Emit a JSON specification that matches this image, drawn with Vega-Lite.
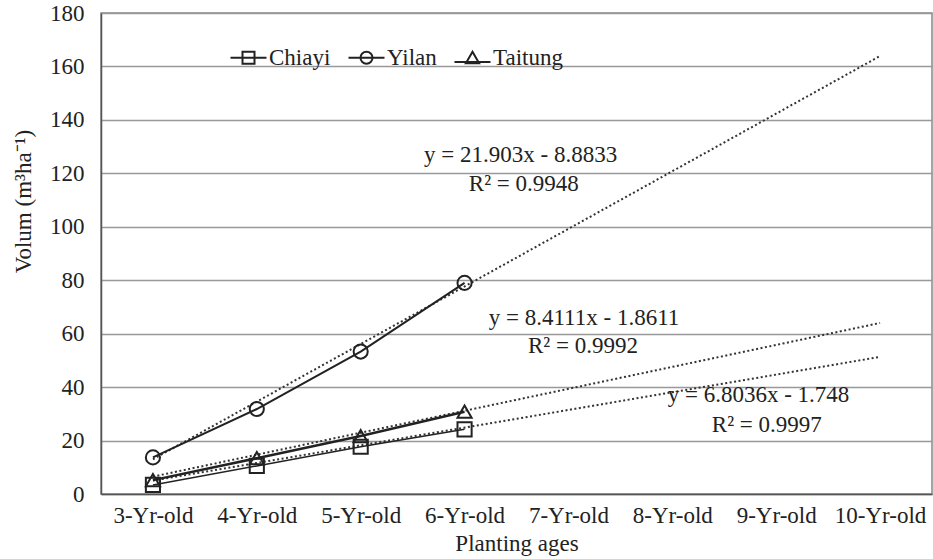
{
  "$schema": "https://vega.github.io/schema/vega-lite/v6.json",
  "width": 831,
  "height": 481,
  "autosize": {"type": "none"},
  "padding": {"left": 101, "top": 13, "right": 1, "bottom": 65},
  "background": "white",
  "config": {
    "font": "Liberation Serif",
    "view": {"stroke": "#888", "strokeWidth": 1.5},
    "axis": {"labelFont": "Liberation Serif", "titleFont": "Liberation Serif", "labelColor": "#222", "titleColor": "#222", "titleFontWeight": "normal"},
    "legend": {"labelFont": "Liberation Serif"},
    "text": {"font": "Liberation Serif"}
  },
  "datasets": {
    "obs": [
      {"series": "Chiayi", "age": 1, "vol": 3.4},
      {"series": "Chiayi", "age": 2, "vol": 10.5},
      {"series": "Chiayi", "age": 3, "vol": 17.7},
      {"series": "Chiayi", "age": 4, "vol": 24.2},
      {"series": "Yilan", "age": 1, "vol": 13.7},
      {"series": "Yilan", "age": 2, "vol": 31.8},
      {"series": "Yilan", "age": 3, "vol": 53.3},
      {"series": "Yilan", "age": 4, "vol": 79.0},
      {"series": "Taitung", "age": 1, "vol": 5.2},
      {"series": "Taitung", "age": 2, "vol": 13.4},
      {"series": "Taitung", "age": 3, "vol": 21.7},
      {"series": "Taitung", "age": 4, "vol": 30.8}
    ],
    "trend": [
      {"series": "Chiayi", "age": 1, "vol": 5.0},
      {"series": "Chiayi", "age": 8, "vol": 51.3},
      {"series": "Yilan", "age": 1, "vol": 13.0},
      {"series": "Yilan", "age": 8, "vol": 163.9},
      {"series": "Taitung", "age": 1, "vol": 6.5},
      {"series": "Taitung", "age": 8, "vol": 64.0}
    ],
    "notes": [
      {"age": 4.54, "vol": 124.3, "label": "y = 21.903x - 8.8833"},
      {"age": 4.57, "vol": 113.3, "label": "R² = 0.9948"},
      {"age": 5.15, "vol": 63.2, "label": "y = 8.4111x - 1.8611"},
      {"age": 5.14, "vol": 52.6, "label": "R² = 0.9992"},
      {"age": 6.83, "vol": 34.4, "label": "y = 6.8036x - 1.748"},
      {"age": 6.91, "vol": 23.2, "label": "R² = 0.9997"}
    ]
  },
  "layer": [
    {
      "data": {"name": "trend"},
      "mark": {"type": "line", "color": "#333", "strokeWidth": 2, "strokeDash": [2, 2.5]},
      "encoding": {
        "x": {
          "field": "age", "type": "quantitative",
          "scale": {"domain": [0.5, 8.5], "nice": false, "zero": false},
          "axis": {
            "title": "Planting ages", "titleFontSize": 23, "titleY": 56, "titleBaseline": "alphabetic",
            "values": [1, 2, 3, 4, 5, 6, 7, 8],
            "labelExpr": "(datum.value + 2) + '-Yr-old'",
            "labelFontSize": 23, "labelPadding": 10, "ticks": false, "tickSize": 0,
            "grid": false, "domainColor": "#555", "domainWidth": 1.5, "labelFlush": false, "labelOverlap": false
          }
        },
        "y": {
          "field": "vol", "type": "quantitative",
          "scale": {"domain": [0, 180], "nice": false},
          "axis": {
            "title": "Volum (m³ha⁻¹)", "titleFontSize": 23, "titleX": -71, "titleY": 188, "titleBaseline": "alphabetic", "titleAngle": -90, "titleAlign": "center",
            "values": [0, 20, 40, 60, 80, 100, 120, 140, 160, 180],
            "labelFontSize": 23, "labelPadding": 17, "ticks": false, "tickSize": 0,
            "grid": true, "gridColor": "#999", "gridWidth": 1.5,
            "domainColor": "#555", "domainWidth": 1.5, "labelFlush": false, "labelOverlap": false
          }
        },
        "detail": {"field": "series"}
      }
    },
    {
      "data": {"name": "obs"},
      "mark": {"type": "line", "color": "#222"},
      "encoding": {
        "x": {"field": "age", "type": "quantitative"},
        "y": {"field": "vol", "type": "quantitative"},
        "detail": {"field": "series"},
        "strokeWidth": {"field": "series", "type": "nominal", "scale": {"domain": ["Chiayi", "Yilan", "Taitung"], "range": [1.5, 2.5, 2.5]}, "legend": null}
      }
    },
    {
      "data": {"name": "obs"},
      "mark": {"type": "point", "filled": false, "color": "#222", "strokeWidth": 2, "size": 200, "opacity": 1},
      "encoding": {
        "x": {"field": "age", "type": "quantitative"},
        "y": {"field": "vol", "type": "quantitative"},
        "shape": {"field": "series", "type": "nominal", "scale": {"domain": ["Chiayi", "Yilan", "Taitung"], "range": ["square", "circle", "triangle-up"]}, "legend": null}
      }
    },
    {
      "data": {"name": "obs"},
      "mark": {"type": "point", "filled": false, "color": "#222", "strokeWidth": 2, "size": 0, "opacity": 1},
      "encoding": {
        "x": {"field": "age", "type": "quantitative"},
        "y": {"field": "vol", "type": "quantitative"},
        "shape": {
          "field": "series", "type": "nominal",
          "scale": {"domain": ["Chiayi", "Yilan", "Taitung"], "range": [
            "M-3,0H3M-1,-1H1V1H-1Z",
            "M-3,0H3M1,0A1,1,0,1,1,-1,0A1,1,0,1,1,1,0Z",
            "M-3,0.7H3M0,-1L1.1,0.9H-1.1Z"
          ]},
          "legend": {
            "title": null, "orient": "none", "direction": "horizontal", "legendX": 136, "legendY": 33,
            "labelFont": "Liberation Serif", "labelFontSize": 23, "labelColor": "#222",
            "symbolSize": 144, "symbolStrokeWidth": 2, "symbolStrokeColor": "#222", "symbolFillColor": "transparent", "symbolOpacity": 1,
            "labelOffset": 9, "columnPadding": 13, "padding": 0
          }
        }
      }
    },
    {
      "data": {"name": "notes"},
      "mark": {"type": "text", "font": "Liberation Serif", "fontSize": 23, "color": "#222", "align": "center", "baseline": "alphabetic"},
      "encoding": {
        "x": {"field": "age", "type": "quantitative"},
        "y": {"field": "vol", "type": "quantitative"},
        "text": {"field": "label"}
      }
    }
  ],
  "resolve": {"scale": {"shape": "independent"}}
}
